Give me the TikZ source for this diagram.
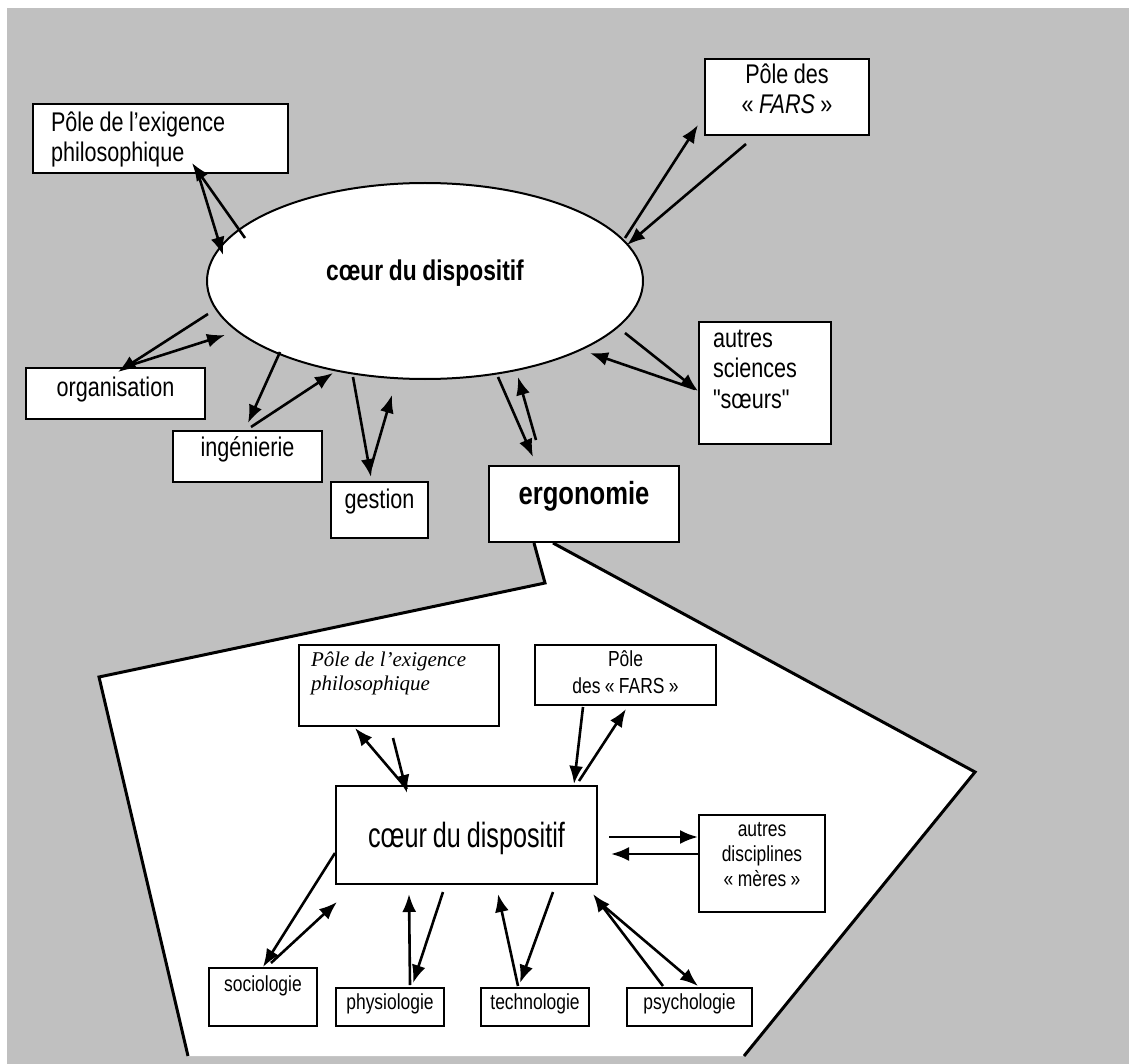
\documentclass[tikz,border=0pt]{standalone}
\usepackage{fontspec}
\usetikzlibrary{shapes.geometric,arrows.meta}
\newfontfamily\arialfont[FakeStretch=0.8,WordSpace=0.9]{Liberation Sans}
\newfontfamily\coeurfont[FakeStretch=0.72,WordSpace=0.85]{Liberation Sans}
\newfontfamily\timesfont{Liberation Serif}
\definecolor{bggray}{RGB}{192,192,192}
\tikzset{
	box/.style={draw, line width=2pt, fill=white, inner sep=0pt, anchor=north west, align=flush center},
	toptext/.style={font=\arialfont\fontsize{27}{30}\selectfont},
	topbold/.style={font=\arialfont\bfseries\fontsize{32}{36}\selectfont},
	lowtext/.style={font=\arialfont\fontsize{21.8}{25}\selectfont},
	arr/.style={-{Latex[length=18pt,width=14pt]}, line width=2.6pt},
	edge/.style={line width=3pt, line join=miter}
}
\begin{document}
\begin{tikzpicture}[x=1pt, y=-1pt]
	\useasboundingbox (0,0) rectangle (1129,1064);
	\fill[bggray] (7,8) rectangle (1129,1064);

	\node[box, toptext, align=flush left, inner xsep=18pt, text width=219pt, text height=28pt, text depth=41pt] (phil) at (32,103) {Pôle de l’exigence\\philosophique};
	\node[box, toptext, text width=164pt, text height=25pt, text depth=51pt] (fars) at (704,58) {Pôle des\\« \textit{FARS} »};
	\node[draw, line width=2pt, fill=white, ellipse, inner sep=0pt, minimum width=436pt, minimum height=196pt, font=\arialfont\bfseries\fontsize{28.5}{32}\selectfont, text height=19pt, text depth=19pt] (core) at (425,281) {cœur du dispositif};
	\node[box, toptext, text width=179pt, text height=28pt, text depth=23pt] (orga) at (25,367) {organisation};
	\node[box, toptext, text width=149pt, text height=25pt, text depth=26pt] (inge) at (172,430) {ingénierie};
	\node[box, toptext, text width=97pt, text height=26pt, text depth=30pt] (gest) at (330,481) {gestion};
	\node[box, topbold, text width=190pt, text height=38pt, text depth=38pt] (ergo) at (488,465) {ergonomie};
	\node[box, toptext, align=flush left, inner xsep=14pt, text width=104pt, text height=26pt, text depth=96pt] (soeurs) at (698,321) {autres\\sciences\\"sœurs"};

	\fill[white] ([xshift=46pt]ergo.south west) -- (545,583) -- (99,677) -- (188,1056) -- (744,1056) -- (975,772) -- ([xshift=65pt]ergo.south west) -- cycle;
	\draw[edge] ([xshift=46pt]ergo.south west) -- (545,583) -- (99,677) -- (188,1056);
	\draw[edge] ([xshift=65pt]ergo.south west) -- (975,772) -- (744,1056);

	\node[box, font=\timesfont\itshape\fontsize{21}{24}\selectfont, align=flush left, inner xsep=12pt, text width=176pt, text height=21pt, text depth=60pt] (phil2) at (298,644) {Pôle de l’exigence\\philosophique};
	\node[box, font=\arialfont\fontsize{21.8}{27}\selectfont, text width=181pt, text height=21pt, text depth=39pt] (fars2) at (534,644) {Pôle\\des « FARS »};
	\node[box, font=\coeurfont\fontsize{35}{40}\selectfont, text width=261pt, text height=61pt, text depth=37pt] (core2) at (335,785) {cœur du dispositif};
	\node[box, lowtext, text width=126pt, text height=21pt, text depth=76pt] (meres) at (698,814) {autres\\disciplines\\« mères »};
	\node[box, lowtext, text width=108pt, text height=23pt, text depth=35pt] (socio) at (208,967) {sociologie};
	\node[box, lowtext, text width=108pt, text height=21pt, text depth=17pt] (physio) at (335,987) {physiologie};
	\node[box, lowtext, text width=108pt, text height=21pt, text depth=17pt] (techno) at (480,987) {technologie};
	\node[box, lowtext, text width=125pt, text height=21pt, text depth=17pt] (psycho) at (626,987) {psychologie};

	\draw[arr] ([shift={(-180,-43)}]core.center) -- ([shift={(31.5,-11)}]phil.south);
	\draw[arr] ([shift={(36.5,-4)}]phil.south) -- ([shift={(-202,-26)}]core.center);
	\draw[arr] ([shift={(200,-43)}]core.center) -- ([shift={(-6,-11)}]fars.south west);
	\draw[arr] ([shift={(42,8)}]fars.south west) -- ([shift={(202,-36)}]core.center);
	\draw[arr] ([shift={(-217,33)}]core.center) -- ([shift={(2.5,5)}]orga.north);
	\draw[arr] ([shift={(12.5,-1)}]orga.north) -- ([shift={(-200,54)}]core.center);
	\draw[arr] ([shift={(-145,71)}]core.center) -- ([shift={(0.5,-7)}]inge.north);
	\draw[arr] ([shift={(3.5,-3)}]inge.north) -- ([shift={(-92,92)}]core.center);
	\draw[arr] ([shift={(-72,96)}]core.center) -- ([shift={(-8.5,-4)}]gest.north);
	\draw[arr] ([shift={(-8.5,-14)}]gest.north) -- ([shift={(-33,114)}]core.center);
	\draw[arr] ([shift={(73,96)}]core.center) -- ([shift={(-51,-8)}]ergo.north);
	\draw[arr] ([shift={(-48,-25)}]ergo.north) -- ([shift={(93,96)}]core.center);
	\draw[arr] ([shift={(200,52)}]core.center) -- ([shift={(0,8)}]soeurs.west);
	\draw[arr] ([shift={(-3,6)}]soeurs.west) -- ([shift={(165,72)}]core.center);

	\draw[arr] ([shift={(-6,11)}]phil2.south) -- ([shift={(72,8)}]core2.north west);
	\draw[arr] ([shift={(72,4)}]core2.north west) -- ([shift={(-44,1)}]phil2.south);
	\draw[arr] ([shift={(-42.5,1)}]fars2.south) -- ([shift={(-24,-1)}]core2.north east);
	\draw[arr] ([shift={(-19,-4)}]core2.north east) -- ([shift={(0.5,3)}]fars2.south);
	\draw[arr] ([shift={(11,2)}]core2.east) -- ([shift={(0,-26.5)}]meres.west);
	\draw[arr] ([shift={(0,-9.5)}]meres.west) -- ([shift={(13,19)}]core2.east);
	\draw[arr] ([shift={(0,18)}]core2.west) -- (socio.north);
	\draw[arr] ([shift={(8,-4)}]socio.north) -- ([shift={(2,17)}]core2.south west);
	\draw[arr] ([shift={(20,-2)}]physio.north) -- ([shift={(74,9)}]core2.south west);
	\draw[arr] ([shift={(108,7)}]core2.south west) -- ([shift={(23,-4)}]physio.north);
	\draw[arr] ([shift={(-17,-1)}]techno.north) -- ([shift={(163,9)}]core2.south west);
	\draw[arr] ([shift={(218,7)}]core2.south west) -- ([shift={(-15,-4)}]techno.north);
	\draw[arr] ([shift={(-26.5,-1)}]psycho.north) -- ([shift={(-5,9)}]core2.south east);
	\draw[arr] ([shift={(1,17)}]core2.south east) -- ([shift={(8.5,-1)}]psycho.north);
\end{tikzpicture}
\end{document}
